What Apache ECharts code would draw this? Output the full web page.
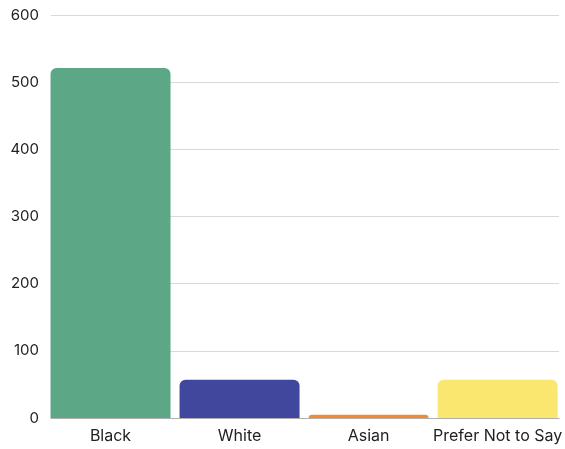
<!DOCTYPE html>
<html>
<head>
<meta charset="utf-8">
<script src="https://cdn.jsdelivr.net/npm/echarts@6/dist/echarts.min.js"></script>
<style>html,body{margin:0;padding:0;background:#fff;}#c{width:565px;height:449px;}</style>
</head>
<body>
<div id="c"></div>
<script>
var categories = ["Black", "White", "Asian", "Prefer Not to Say"];
var values = [521, 57, 5, 57];
var colors = ["#5ca886", "#41479c", "#f58a35", "#f9e770"];
var yTicks = [0, 100, 200, 300, 400, 500, 600];

var chart = echarts.init(document.getElementById('c'));
var font = 'Inter, "Noto Sans", sans-serif';
chart.setOption({
  animation: false,
  grid: [
    {left: 51, right: 6, top: 15, bottom: 31, containLabel: false},
    {left: 46, right: 1, top: 15, bottom: 31, containLabel: false}
  ],
  xAxis: [
    {gridIndex: 0, type: 'category', data: categories, axisLabel: {show: false}, axisTick: {show: false},
     axisLine: {show: true, lineStyle: {color: '#b0b0b0', width: 1}}, splitLine: {show: false}},
    {gridIndex: 1, type: 'category', data: categories, axisTick: {show: false}, axisLine: {show: false},
     axisLabel: {color: '#222', fontSize: 16, fontFamily: font, margin: 10, interval: 0}}
  ],
  yAxis: [
    {gridIndex: 0, type: 'value', min: yTicks[0], max: yTicks[yTicks.length-1], interval: 100,
     axisLine: {show: false}, axisTick: {show: false},
     axisLabel: {color: '#222', fontSize: 15, fontFamily: font, margin: 12},
     splitLine: {lineStyle: {color: '#d9d9d9', width: 1}}},
    {gridIndex: 1, type: 'value', min: yTicks[0], max: yTicks[yTicks.length-1], interval: 100,
     show: false, splitLine: {show: false}}
  ],
  series: [{
    type: 'bar',
    xAxisIndex: 1, yAxisIndex: 1,
    barWidth: 120,
    data: values.map(function (v, i) {
      return {value: v, itemStyle: {color: colors[i], borderRadius: [6, 6, 0, 0]}};
    })
  }]
});
</script>
</body>
</html>
